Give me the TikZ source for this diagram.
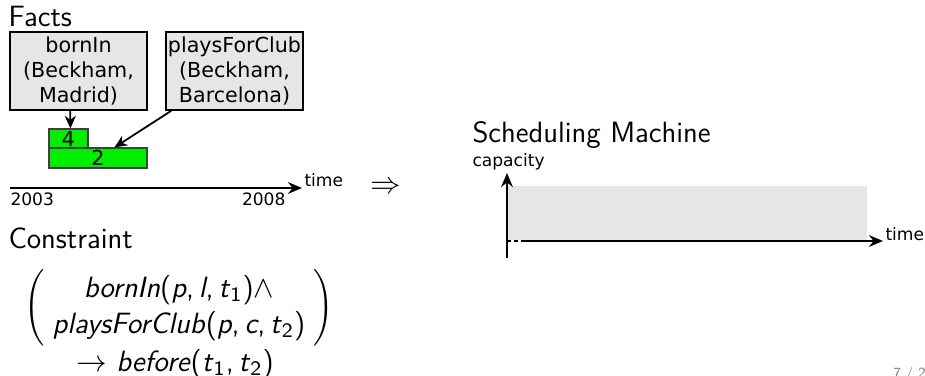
\documentclass[tikz,border=0pt]{standalone}
\usepackage{fontspec}
\newfontfamily\dv{DejaVu Sans}
\usetikzlibrary{arrows.meta,calc}
\definecolor{boxgray}{HTML}{E6E6E6}
\definecolor{bargreen}{HTML}{00EE00}
\newcommand\mi[1]{\textit{#1}}
\begin{document}
\begin{tikzpicture}[x=0.3921pt,y=-0.3921pt,
  title/.style={font=\fontsize{11.5}{14}\sffamily, inner sep=0},
  fact/.style={draw=black, line width=0.6pt, fill=boxgray, minimum width=53.7pt, minimum height=30.6pt, inner sep=0, align=center, font=\fontsize{8.1}{9.8}\dv},
  bar/.style={draw=black!75, line width=0.45pt, fill=bargreen, inner sep=0, font=\fontsize{8.1}{9}\dv},
  lbl/.style={inner sep=0, font=\fontsize{6.7}{8}\dv},
  arr/.style={line width=0.7pt, -{Stealth[length=5pt,width=4.4pt]}},
  axis/.style={line width=0.8pt, -{Stealth[length=5.5pt,width=4.6pt]}},
]
\useasboundingbox (0,0) rectangle (925,375);
\clip (0,0) rectangle (925,375);

% Facts
\node[title, anchor=base west] (facts) at (8,27) {Facts};
\node[fact] (born) at (78.5,71) {bornIn\\(Beckham,\\Madrid)};
\node[fact] (plays) at (234.5,71) {playsForClub\\(Beckham,\\Barcelona)};
\node[bar, minimum width=15.3pt, minimum height=7.45pt] (g4) at (68.5,138.5) {4};
\node[bar, minimum width=38.4pt, minimum height=7.84pt] (g2) at (98,158) {2};
\draw[arr] ($(born.south west)+(61,0)$) -- ($(g4.north west)+(22,0)$);
\draw[arr] ($(plays.south west)+(6,0)$) -- ($(g2.north west)+(66,0)$);

% time axis left
\coordinate (ta) at (10,188);
\coordinate (tb) at (302,188);
\draw[axis] (ta) -- (tb);
\node[lbl, anchor=base west] (time1) at (304,186) {time};
\node[lbl, anchor=north west] (y2003) at (10,192) {2003};
\node[lbl, anchor=north east] (y2008) at (286,192) {2008};

\node[inner sep=0, font=\fontsize{11.5}{14}\selectfont] (impl) at (386,188) {$\Rightarrow$};

% Constraint
\node[title, anchor=base west] (constr) at (8,248) {Constraint};
\node[inner sep=0, font=\fontsize{11.5}{14}\sffamily] (formula) at (179,308)
 {$\left(\begin{tabular}{@{\;}c@{\;}}\mi{bornIn}(\mi{p},\,\mi{l},\,\mi{t}\textsubscript{1})$\wedge$\\
 \mi{playsForClub}(\mi{p},\,\mi{c},\,\mi{t}\textsubscript{2})\end{tabular}\right)$};
\node[inner sep=0, font=\fontsize{11.5}{14}\sffamily, anchor=base] (before) at (175,371)
 {$\rightarrow$ \mi{before}(\mi{t}\textsubscript{1},\,\mi{t}\textsubscript{2})};

% Scheduling machine
\node[title, anchor=base west] (sched) at (472,142) {Scheduling Machine};
\fill[boxgray] (508,186) rectangle (867,240);
\coordinate (cb) at (507,258);
\coordinate (ct) at (507,173);
\draw[axis] (cb) -- (ct);
\node[lbl, anchor=base west] (cap) at (472,166) {capacity};
\coordinate (o) at (507,241);
\coordinate (od) at (523,241);
\coordinate (te) at (883,241);
\draw[line width=0.8pt, dash pattern=on 1.6pt off 1.2pt] (o) -- (od);
\draw[axis] (od) -- (te);
\node[lbl, anchor=base west] (time2) at (885,240) {time};

\node[inner sep=0, anchor=north west, text=black!50, font=\fontsize{5.5}{7}\sffamily] (page) at (893,366) {7 / 27};
\end{tikzpicture}
\end{document}
